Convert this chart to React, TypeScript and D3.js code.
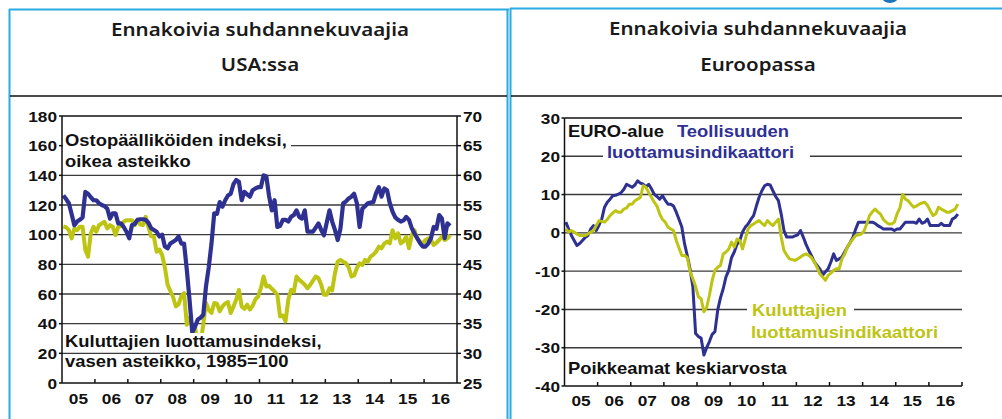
import React from "react";
import * as d3 from "d3";

// ---------- DATA ----------
const years = [2005, 2006, 2007, 2008, 2009, 2010, 2011, 2012, 2013, 2014, 2015, 2016];
const yearLabels = ["05", "06", "07", "08", "09", "10", "11", "12", "13", "14", "15", "16"];

// USA: ISM purchasing managers' index (right axis), monthly Jan 2005 – Oct 2016
const usPmi = [
  56.6, 56.0, 55.3, 53.5, 51.6, 52.2, 52.5, 52.9, 57.2, 56.9, 56.3, 55.8,
  55.8, 55.3, 55.0, 54.8, 54.4, 52.7, 53.6, 53.6, 51.9, 51.9, 51.3, 50.5,
  49.4, 51.6, 51.8, 52.5, 52.6, 52.6, 52.5, 52.0, 51.1, 50.8, 50.5, 49.7,
  50.0, 48.0, 47.7, 48.5, 48.8, 49.1, 49.7, 48.5, 48.5, 44.1, 39.0, 33.5,
  34.5, 35.7, 36.0, 36.5, 41.3, 44.5, 48.5, 53.6, 53.5, 55.5, 54.7, 55.8,
  56.6, 56.9, 58.5, 59.2, 58.9, 55.8, 57.2, 56.8, 56.4, 57.5, 57.8, 58.0,
  58.0, 60.0, 59.8, 56.5, 54.1, 55.8, 51.3, 51.5, 52.5, 52.5, 52.2, 53.0,
  53.3, 54.1, 53.0, 52.7, 54.1, 50.5, 50.5, 50.5, 51.2, 51.9, 50.8, 49.9,
  52.0, 54.1, 52.2, 50.8, 49.1, 51.0, 55.3, 55.6, 56.1, 56.4, 56.9, 55.3,
  51.3, 54.4, 54.8, 55.3, 55.4, 55.5, 57.0, 58.0, 56.4, 57.8, 57.5, 55.3,
  53.9, 52.9, 52.5, 52.2, 52.4, 53.0, 52.5, 51.1, 50.2, 49.4, 48.6, 48.0,
  48.0, 48.5, 49.4, 51.3, 51.0, 53.3, 52.7, 49.4, 51.9, 51.5,
];

// USA: consumer confidence index, 1985=100 (left axis), monthly Jan 2005 – Oct 2016
const usConfidence = [
  105.5, 105.0, 103.0, 97.5, 104.2, 103.0, 105.3, 105.3, 89.7, 85.2, 100.9, 105.3,
  102.0, 106.4, 107.5, 108.7, 104.2, 106.4, 105.3, 99.7, 105.3, 106.0, 108.7, 109.8,
  109.8, 109.8, 106.4, 109.8, 107.0, 106.4, 112.0, 105.0, 99.0, 98.6, 88.5, 90.0,
  86.3, 78.0, 66.2, 62.0, 58.0, 51.6, 53.0, 58.5, 60.6, 39.3, 44.0, 38.2,
  37.7, 25.3, 26.9, 39.3, 53.9, 49.3, 47.2, 53.9, 53.4, 48.3, 51.6, 53.6,
  54.5, 47.2, 51.5, 56.1, 62.8, 51.6, 50.0, 52.8, 49.5, 52.0, 56.5, 58.3,
  63.9, 71.8, 65.1, 65.5, 63.5, 61.7, 59.5, 44.9, 45.5, 41.6, 56.1, 62.8,
  61.5, 71.8, 69.5, 68.0, 66.2, 63.9, 66.2, 69.0, 71.8, 70.6, 66.2, 59.5,
  59.5, 63.9, 62.5, 74.0, 81.8, 83.0, 81.8, 80.7, 78.0, 71.8, 72.5, 77.5,
  80.7, 79.6, 83.0, 81.8, 85.2, 86.5, 88.5, 91.9, 90.8, 94.0, 95.3, 94.1,
  103.0, 97.5, 100.9, 94.1, 95.5, 98.6, 90.8, 99.7, 103.0, 97.5, 95.3, 94.1,
  96.4, 97.5, 96.4, 93.0, 94.5, 96.4, 98.6, 96.4, 97.5, 99.7,
];

// Euro area: industrial confidence, deviation from average, Jan 2005 – Nov 2016
const euroIndustry = [
  2.8, 1.0, -0.7, -2.0, -3.3, -2.8, -2.0, -1.2, -0.7, 1.0, 1.9, 0.6,
  2.0, 3.6, 6.7, 8.0, 8.8, 9.7, 9.8, 10.1, 10.5, 11.4, 12.7, 12.3,
  11.9, 12.5, 13.6, 13.0, 12.7, 12.0, 12.7, 11.5, 10.1, 9.5, 8.8, 9.7,
  8.5, 7.5, 7.5, 7.0, 5.4, 3.5, 1.5, -2.9, -6.0, -9.5, -14.1, -26.3,
  -27.1, -27.5, -31.9, -30.0, -28.4, -26.5, -25.8, -20.2, -17.0, -14.6, -11.5, -9.8,
  -6.5, -5.0, -3.0, -2.0, 0.2, 1.5, 2.3, 3.5, 4.5, 7.0, 9.3, 11.0,
  12.3, 12.7, 12.5, 11.0, 9.5, 8.4, 4.9, 0.6, -1.1, -1.1, -1.1, -0.8,
  -0.5, 0.6, -1.1, -3.0, -4.6, -6.0, -7.6, -8.5, -9.4, -11.1, -10.2, -9.4,
  -7.6, -5.5, -7.2, -6.8, -6.3, -5.0, -3.7, -2.5, -1.1, 1.0, 2.8, 2.8,
  2.8, 2.8, 2.8, 2.8, 2.5, 1.9, 1.5, 1.0, 1.0, 1.0, 1.0, 0.6,
  1.0, 1.0, 1.9, 2.8, 2.8, 2.8, 2.8, 2.5, 3.6, 2.5, 2.8, 3.6,
  1.9, 1.9, 1.9, 1.9, 2.5, 1.9, 1.9, 1.9, 3.6, 4.0, 4.9,
];

// Euro area: consumer confidence, deviation from average, Jan 2005 – Nov 2016
const euroConsumer = [
  1.0, 0.2, 0.6, 0.2, -0.3, -0.7, -0.7, -0.7, -0.3, 0.2, 0.6, 1.9,
  3.2, 3.0, 2.8, 3.5, 4.5, 5.2, 5.8, 5.4, 5.4, 6.2, 6.5, 7.5,
  7.5, 8.4, 8.8, 9.3, 12.3, 11.9, 10.5, 9.3, 8.0, 7.0, 4.9, 3.5,
  2.8, 1.5, 1.0, 0.6, -2.0, -4.0, -5.9, -5.9, -6.5, -10.2, -12.0, -14.0,
  -16.7, -17.2, -20.6, -19.5, -16.3, -12.4, -9.8, -9.0, -8.5, -5.5, -5.0, -4.2,
  -2.4, -3.7, -1.6, -2.0, -4.2, -1.6, 1.0, 1.9, 2.3, 2.8, 3.2, 2.5,
  1.9, 3.2, 2.5, 1.9, 2.8, 3.6, -1.1, -4.6, -5.8, -6.8, -7.0, -7.2,
  -6.8, -6.3, -5.8, -5.5, -5.9, -6.5, -7.6, -9.0, -10.7, -11.5, -12.4, -11.1,
  -10.5, -9.8, -9.4, -9.4, -6.8, -5.5, -3.7, -2.5, -1.6, -0.7, -0.5, -0.3,
  0.5, 2.3, 4.5, 5.5, 6.2, 5.5, 4.9, 3.5, 2.8, 2.3, 2.3, 2.8,
  5.0, 6.5, 10.1, 8.8, 8.4, 7.5, 6.7, 7.0, 7.5, 7.8, 8.0, 7.2,
  5.8, 4.5, 5.0, 6.7, 6.2, 5.8, 5.4, 5.4, 5.8, 6.2, 7.5,
];

const usLeftTicks = [0, 20, 40, 60, 80, 100, 120, 140, 160, 180];
const usRightTicks = [25, 30, 35, 40, 45, 50, 55, 60, 65, 70];
const euroTicks = [-40, -30, -20, -10, 0, 10, 20, 30];

// ---------- STYLE ----------
const BLUE = "#2e3192";
const YELLOW = "#bdc412";
const FRAME = "#29abe2";
const GRID = "#3a3a3a";
const FONT = "'Liberation Sans', Arial, sans-serif";
const TITLE_FONT = "'Noto Sans', 'DejaVu Sans', sans-serif";
const SX = 1.15;

const monthX = (i: number) => 2005 + (i + 0.5) / 12;

function Txt({ x, y, children, anchor = "start", size = 15, fill = "#111", weight = 700, family = FONT, sx = SX }: any) {
  return (
    <text
      transform={`translate(${x},${y}) scale(${sx},1)`}
      textAnchor={anchor}
      fontSize={size}
      fontWeight={weight}
      fontFamily={family}
      fill={fill}
    >
      {children}
    </text>
  );
}

function UsChart() {
  const x = d3.scaleLinear().domain([2005, 2017]).range([62, 457]);
  const yL = d3.scaleLinear().domain([0, 180]).range([383, 116]);
  const yR = d3.scaleLinear().domain([25, 70]).range([383, 116]);
  const lineConf = d3.line<number>().x((_, i) => x(monthX(i))).y((d) => yL(d));
  const linePmi = d3.line<number>().x((_, i) => x(monthX(i))).y((d) => yR(d));
  const [x0, x1] = x.range();
  return (
    <g>
      {usLeftTicks.filter((t) => t > 0 && t < 180).map((t) => (
        <line key={t} x1={x0} x2={x1} y1={yL(t)} y2={yL(t)} stroke={GRID} strokeWidth={1.4} />
      ))}
      <path d={lineConf(usConfidence) || ""} fill="none" stroke={YELLOW} strokeWidth={4} strokeLinejoin="round" />
      <path d={linePmi(usPmi) || ""} fill="none" stroke={BLUE} strokeWidth={4.2} strokeLinejoin="round" />
      {/* frame */}
      <line x1={x0} x2={x1} y1={yL(180)} y2={yL(180)} stroke="#111" strokeWidth={1.5} />
      <line x1={x0} x2={x0} y1={yL(180)} y2={yL(0)} stroke="#111" strokeWidth={1.5} />
      <line x1={x1} x2={x1} y1={yL(180)} y2={yL(0)} stroke="#111" strokeWidth={1.5} />
      <line x1={x0} x2={x1} y1={yL(0)} y2={yL(0)} stroke="#111" strokeWidth={1.5} />
      {usLeftTicks.map((t) => (
        <g key={"l" + t}>
          <line x1={x0 - 3} x2={x0} y1={yL(t)} y2={yL(t)} stroke="#111" strokeWidth={1.5} />
          <Txt x={57} y={yL(t) + 5.5} anchor="end">{t}</Txt>
        </g>
      ))}
      {usRightTicks.map((t) => (
        <g key={"r" + t}>
          <line x1={x1} x2={x1 + 4} y1={yR(t)} y2={yR(t)} stroke="#111" strokeWidth={1.5} />
          <Txt x={463} y={yR(t) + 5.5}>{t}</Txt>
        </g>
      ))}
      {years.slice(1).map((yr) => (
        <line key={"t" + yr} x1={x(yr)} x2={x(yr)} y1={yL(0)} y2={yL(0) - 4} stroke="#111" strokeWidth={1.5} />
      ))}
      {years.map((yr, i) => (
        <Txt key={"x" + yr} x={x(yr + 0.5)} y={404} anchor="middle">{yearLabels[i]}</Txt>
      ))}
      {/* labels with white backgrounds */}
      <rect x={63} y={131} width={228} height={40} fill="#fff" />
      <Txt x={65} y={146} size={16}>Ostopäälliköiden indeksi,</Txt>
      <Txt x={65} y={167} size={16}>oikea asteikko</Txt>
      <rect x={63} y={333} width={262} height={18} fill="#fff" />
      <rect x={63} y={355} width={230} height={16} fill="#fff" />
      <Txt x={65} y={346.5} size={16}>Kuluttajien luottamusindeksi,</Txt>
      <Txt x={65} y={367} size={16}>vasen asteikko, 1985=100</Txt>
    </g>
  );
}

function EuroChart() {
  const x = d3.scaleLinear().domain([2005, 2017]).range([564.5, 962]);
  const y = d3.scaleLinear().domain([-40, 30]).range([386, 118]);
  const line = d3.line<number>().x((_, i) => x(monthX(i))).y((d) => y(d));
  const [x0, x1] = x.range();
  return (
    <g>
      {euroTicks.filter((t) => t > -40 && t < 30).map((t) => (
        <line key={t} x1={x0} x2={x1} y1={y(t)} y2={y(t)} stroke={GRID} strokeWidth={1.4} />
      ))}
      <path d={line(euroIndustry) || ""} fill="none" stroke={BLUE} strokeWidth={3} strokeLinejoin="round" />
      <path d={line(euroConsumer) || ""} fill="none" stroke={YELLOW} strokeWidth={3} strokeLinejoin="round" />
      <line x1={x0} x2={x1} y1={y(30)} y2={y(30)} stroke="#111" strokeWidth={1.5} />
      <line x1={x0} x2={x0} y1={y(30)} y2={y(-40)} stroke="#111" strokeWidth={1.5} />
      <line x1={x0} x2={x1} y1={y(-40)} y2={y(-40)} stroke="#111" strokeWidth={1.5} />
      {euroTicks.map((t) => (
        <g key={"l" + t}>
          <line x1={x0 - 3} x2={x0} y1={y(t)} y2={y(t)} stroke="#111" strokeWidth={1.5} />
          <Txt x={560} y={y(t) + 5.5} anchor="end">{t}</Txt>
        </g>
      ))}
      {[...years.slice(1), 2017].map((yr) => (
        <line key={"t" + yr} x1={x(yr)} x2={x(yr)} y1={y(-40)} y2={y(-40) - 4} stroke="#111" strokeWidth={1.5} />
      ))}
      {years.map((yr, i) => (
        <Txt key={"x" + yr} x={x(yr + 0.5)} y={406} anchor="middle">{yearLabels[i]}</Txt>
      ))}
      <Txt x={568} y={137} size={16}>EURO-alue</Txt>
      <Txt x={677} y={137} size={16} fill={BLUE}>Teollisuuden</Txt>
      <rect x={603} y={143} width={207} height={19} fill="#fff" />
      <Txt x={607} y={158} size={16} fill={BLUE}>luottamusindikaattori</Txt>
      <rect x={747} y={300} width={107} height={20} fill="#fff" />
      <Txt x={752} y={315.5} size={16} fill={YELLOW}>Kuluttajien</Txt>
      <Txt x={751} y={338} size={16} fill={YELLOW}>luottamusindikaattori</Txt>
      <Txt x={568} y={374} size={16}>Poikkeamat keskiarvosta</Txt>
    </g>
  );
}

export default function App() {
  const title = { size: 18.5, weight: 600, family: TITLE_FONT, sx: 1.11, anchor: "middle", fill: "#1a1a1a" };
  return (
    <div style={{ position: "fixed", left: 0, top: 0, width: 1002, height: 419, background: "#fff" }}>
      <svg width={1002} height={419} viewBox="0 0 1002 419" style={{ display: "block" }}>
        <rect width={1002} height={419} fill="#fff" />
        {/* panel frames */}
        <line x1={9.5} x2={9.5} y1={9} y2={419} stroke={FRAME} strokeWidth={2} />
        <line x1={9} x2={509} y1={9.5} y2={9.5} stroke={FRAME} strokeWidth={2} />
        <line x1={507.5} x2={507.5} y1={9} y2={419} stroke={FRAME} strokeWidth={2} />
        <line x1={510.5} x2={510.5} y1={8} y2={419} stroke={FRAME} strokeWidth={2} />
        <line x1={510} x2={1002} y1={8.5} y2={8.5} stroke={FRAME} strokeWidth={2} />
        <ellipse cx={890} cy={-3} rx={8} ry={6} fill="#1b75bb" />
        <line x1={10} x2={507} y1={96} y2={96} stroke="#111" strokeWidth={1.5} />
        <line x1={511} x2={1002} y1={96} y2={96} stroke="#111" strokeWidth={1.5} />
        {/* titles */}
        <Txt x={260} y={36} {...title}>Ennakoivia suhdannekuvaajia</Txt>
        <Txt x={260} y={71} {...title}>USA:ssa</Txt>
        <Txt x={758} y={35} {...title}>Ennakoivia suhdannekuvaajia</Txt>
        <Txt x={758} y={71} {...title}>Euroopassa</Txt>
        <UsChart />
        <EuroChart />
      </svg>
    </div>
  );
}
